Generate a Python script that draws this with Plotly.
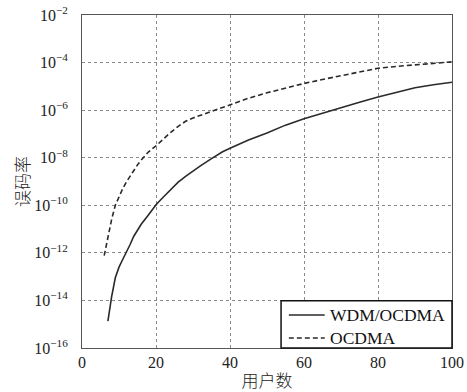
import plotly.graph_objects as go

# Data: bit error rate as log10 values
users_ocdma = [6, 7, 8, 9, 10, 11, 12, 13, 14, 15, 16, 17, 18, 20, 22, 24, 26, 28, 30, 32, 35, 40,
               45, 50, 55, 60, 65, 70, 75, 80, 85, 90, 95, 100]
log_ber_ocdma = [-12.12, -11.3, -10.6, -10.0, -9.62, -9.3, -9.02, -8.76, -8.52, -8.3, -8.1, -7.92, -7.75,
                 -7.5, -7.2, -6.93, -6.68, -6.47, -6.33, -6.22, -6.04, -5.76, -5.5, -5.27, -5.07, -4.88,
                 -4.71, -4.55, -4.39, -4.24, -4.16, -4.09, -4.03, -3.97]

users_wdm = [7, 8, 9, 10, 11, 12, 13, 14, 16, 18, 20, 22, 24, 26, 28, 30, 32, 35, 38, 40, 45, 50, 55,
             60, 65, 70, 75, 80, 85, 90, 95, 100]
log_ber_wdm = [-14.87, -13.85, -13.05, -12.6, -12.28, -11.98, -11.65, -11.3, -10.8, -10.4, -9.98, -9.65,
               -9.32, -9.03, -8.78, -8.55, -8.34, -8.04, -7.75, -7.6, -7.26, -6.96, -6.63, -6.36, -6.12,
               -5.89, -5.67, -5.45, -5.24, -5.06, -4.93, -4.83]

series_names = ["WDM/OCDMA", "OCDMA"]
series_dash = ["solid", "5px,3px"]

ber_ocdma = [10 ** v for v in log_ber_ocdma]
ber_wdm = [10 ** v for v in log_ber_wdm]

y_exps = [-16, -14, -12, -10, -8, -6, -4, -2]
y_tickvals = [10 ** e for e in y_exps]
y_ticktext = ["10<sup>−%d</sup>" % (-e) for e in y_exps]
x_ticks = [0, 20, 40, 60, 80, 100]

serif = "Liberation Serif, Times New Roman, serif"
cjk = "Noto Sans CJK SC"
ink = "#2a2a2a"

fig = go.Figure()
fig.add_trace(go.Scatter(x=users_wdm, y=ber_wdm, mode="lines", name=series_names[0],
                         line=dict(color=ink, width=1.6, dash=series_dash[0])))
fig.add_trace(go.Scatter(x=users_ocdma, y=ber_ocdma, mode="lines", name=series_names[1],
                         line=dict(color=ink, width=1.6, dash=series_dash[1])))

# Legend box (drawn in paper coordinates to match the compact MATLAB-style legend)
box_x0, box_x1, box_y0, box_y1 = 0.538, 1.0, 0.0, 0.142
row_y = [0.099, 0.030]
fig.add_shape(type="rect", xref="paper", yref="paper", x0=box_x0, x1=box_x1, y0=box_y0, y1=box_y1,
              line=dict(color="#111", width=1.5), fillcolor="white", layer="above")
for name, dash, yy in zip(series_names, series_dash, row_y):
    fig.add_shape(type="line", xref="paper", yref="paper", x0=0.559, x1=0.656, y0=yy, y1=yy,
                  line=dict(color=ink, width=1.6, dash=dash), layer="above")
    fig.add_annotation(xref="paper", yref="paper", x=0.664, y=yy, text=name, showarrow=False,
                       xanchor="left", yanchor="middle",
                       font=dict(family=serif, size=17.5, color="#111"))

fig.update_layout(
    width=467, height=392,
    margin=dict(l=82, r=15, t=15, b=44, autoexpand=False),
    paper_bgcolor="white", plot_bgcolor="white",
    font=dict(family=serif, size=15, color="#222"),
    showlegend=False,
    xaxis=dict(range=[0, 100], tickvals=x_ticks, showgrid=True, gridcolor="#8a8a8a",
               griddash="3px,3px", gridwidth=1, showline=True, linecolor="#555", linewidth=1,
               mirror=True, ticks="", zeroline=False, automargin=False,
               title=dict(text="用户数", font=dict(family=cjk, size=17, color="#222", weight=300),
                          standoff=4),
               tickfont=dict(family=serif, size=16, color="#222")),
    yaxis=dict(type="log", range=[-16, -2], tickvals=y_tickvals, ticktext=y_ticktext,
               showgrid=True, gridcolor="#8a8a8a", griddash="3px,3px", gridwidth=1,
               showline=True, linecolor="#555", linewidth=1, mirror=True, ticks="", zeroline=False,
               automargin=False, ticklabelstandoff=10,
               title=dict(text="误码率", font=dict(family=cjk, size=17, color="#222", weight=300),
                          standoff=0),
               tickfont=dict(family=serif, size=16, color="#222")),
)

fig.write_html("out.html", config={"displayModeBar": False, "staticPlot": True},
               post_script="document.body.style.margin='0';document.body.style.padding='0';"
                           "document.body.style.overflow='hidden';")
